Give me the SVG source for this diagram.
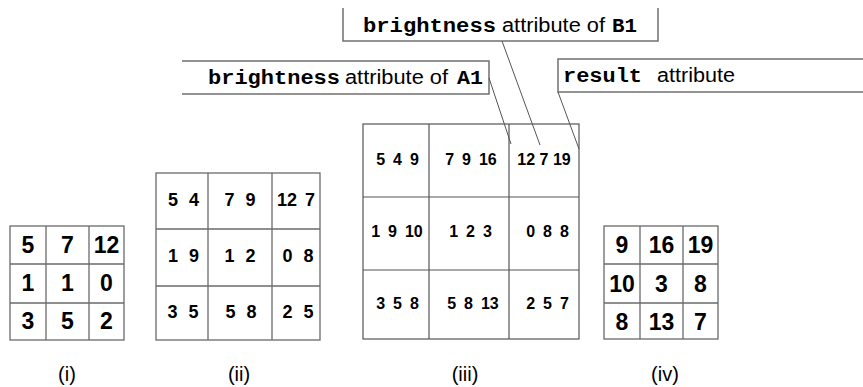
<svg xmlns="http://www.w3.org/2000/svg" width="863" height="387" viewBox="0 0 863 387">
<style>
  .bg{fill:#ffffff}
  .grid{fill:none;stroke:#6a6a6a;stroke-width:1.3}
  .grid3{fill:none;stroke:#555555;stroke-width:1.2}
  .box{fill:none;stroke:#707070;stroke-width:1.5}
  .lead{fill:none;stroke:#555555;stroke-width:1}
  .big{font-family:"Liberation Sans",Arial,sans-serif;font-weight:bold;font-size:23px;fill:#000;text-anchor:middle}
  .mid{font-family:"Liberation Sans",Arial,sans-serif;font-weight:bold;font-size:18px;fill:#000;text-anchor:middle;word-spacing:6px}
  .sm{font-family:"Liberation Sans",Arial,sans-serif;font-weight:bold;font-size:16px;fill:#000;text-anchor:middle;word-spacing:3.5px}
  .mono{font-family:"Liberation Mono","Courier New",monospace;font-weight:bold;font-size:20px;fill:#000}
  .sans{font-family:"Liberation Sans",Arial,sans-serif;font-size:20px;fill:#000}
  .lab{font-family:"Liberation Sans",Arial,sans-serif;font-size:20px;fill:#000;text-anchor:middle}
</style>
<rect class="bg" x="0" y="0" width="863" height="387"/>

<g id="callout-b1">
  <polyline class="box" points="343,8 343,41 658,41 658,8"/>
  <text class="mono" x="363" y="32" textLength="133" lengthAdjust="spacingAndGlyphs">brightness</text>
  <text class="sans" x="502" y="32" textLength="103" lengthAdjust="spacingAndGlyphs">attribute of</text>
  <text class="mono" x="612" y="32" textLength="25" lengthAdjust="spacingAndGlyphs">B1</text>
</g>

<g id="callout-a1">
  <polyline class="box" points="182,61 489,61 489,94 182,94"/>
  <text class="mono" x="208" y="84" textLength="132" lengthAdjust="spacingAndGlyphs">brightness</text>
  <text class="sans" x="345" y="84" textLength="103" lengthAdjust="spacingAndGlyphs">attribute of</text>
  <text class="mono" x="457" y="84" textLength="26" lengthAdjust="spacingAndGlyphs">A1</text>
</g>

<g id="callout-result">
  <polyline class="box" points="863,59 558,59 558,92 863,92"/>
  <text class="mono" x="563" y="82" textLength="79" lengthAdjust="spacingAndGlyphs">result</text>
  <text class="sans" x="657" y="82" textLength="78" lengthAdjust="spacingAndGlyphs">attribute</text>
</g>

<g id="connectors">
  <line class="lead" x1="489" y1="78" x2="511" y2="144"/>
  <line class="lead" x1="502" y1="41" x2="540" y2="145"/>
  <line class="lead" x1="558" y1="92" x2="579" y2="149"/>
</g>

<g id="grid-i">
  <rect class="grid" x="10" y="226" width="114" height="114"/>
  <line class="grid" x1="46" y1="226" x2="46" y2="340"/>
  <line class="grid" x1="89" y1="226" x2="89" y2="340"/>
  <line class="grid" x1="10" y1="264" x2="124" y2="264"/>
  <line class="grid" x1="10" y1="303" x2="124" y2="303"/>
  <text class="big" x="28" y="253">5</text>
  <text class="big" x="67.5" y="253">7</text>
  <text class="big" x="106.5" y="253">12</text>
  <text class="big" x="28" y="291">1</text>
  <text class="big" x="67.5" y="291">1</text>
  <text class="big" x="106.5" y="291">0</text>
  <text class="big" x="28" y="329">3</text>
  <text class="big" x="67.5" y="329">5</text>
  <text class="big" x="106.5" y="329">2</text>
  <text class="lab" x="67" y="381">(i)</text>
</g>

<g id="grid-ii">
  <rect class="grid" x="156" y="173" width="164" height="167"/>
  <line class="grid" x1="208" y1="173" x2="208" y2="340"/>
  <line class="grid" x1="272" y1="173" x2="272" y2="340"/>
  <line class="grid" x1="156" y1="229" x2="320" y2="229"/>
  <line class="grid" x1="156" y1="286" x2="320" y2="286"/>
  <text class="mid" x="183.5" y="206">5 4</text>
  <text class="mid" x="240" y="206">7 9</text>
  <text class="mid" x="296" y="206" style="word-spacing:3px">12 7</text>
  <text class="mid" x="183.5" y="262">1 9</text>
  <text class="mid" x="240" y="262">1 2</text>
  <text class="mid" x="298" y="262">0 8</text>
  <text class="mid" x="183" y="318">3 5</text>
  <text class="mid" x="241" y="318">5 8</text>
  <text class="mid" x="298" y="318">2 5</text>
  <text class="lab" x="239" y="381">(ii)</text>
</g>

<g id="grid-iii">
  <rect class="grid3" x="363" y="124" width="216" height="215"/>
  <line class="grid3" x1="429" y1="124" x2="429" y2="339"/>
  <line class="grid3" x1="509" y1="124" x2="509" y2="339"/>
  <line class="grid3" x1="363" y1="197" x2="579" y2="197"/>
  <line class="grid3" x1="363" y1="270" x2="579" y2="270"/>
  <text class="sm" x="397.5" y="165">5 4 9</text>
  <text class="sm" x="471" y="165">7 9 16</text>
  <text class="sm" x="544" y="165" style="word-spacing:0px">12 7 19</text>
  <text class="sm" x="397" y="237">1 9 10</text>
  <text class="sm" x="470.5" y="237">1 2 3</text>
  <text class="sm" x="547.5" y="237">0 8 8</text>
  <text class="sm" x="397.5" y="309">3 5 8</text>
  <text class="sm" x="473" y="309">5 8 13</text>
  <text class="sm" x="547.5" y="309">2 5 7</text>
  <text class="lab" x="465" y="381">(iii)</text>
</g>

<g id="grid-iv">
  <rect class="grid" x="604" y="226" width="114" height="113"/>
  <line class="grid" x1="640" y1="226" x2="640" y2="339"/>
  <line class="grid" x1="683" y1="226" x2="683" y2="339"/>
  <line class="grid" x1="604" y1="264" x2="718" y2="264"/>
  <line class="grid" x1="604" y1="303" x2="718" y2="303"/>
  <text class="big" x="622" y="253">9</text>
  <text class="big" x="661.5" y="253">16</text>
  <text class="big" x="700.5" y="253">19</text>
  <text class="big" x="622" y="292">10</text>
  <text class="big" x="661.5" y="292">3</text>
  <text class="big" x="700.5" y="292">8</text>
  <text class="big" x="622" y="330">8</text>
  <text class="big" x="661.5" y="330">13</text>
  <text class="big" x="700.5" y="330">7</text>
  <text class="lab" x="665" y="381">(iv)</text>
</g>
</svg>
